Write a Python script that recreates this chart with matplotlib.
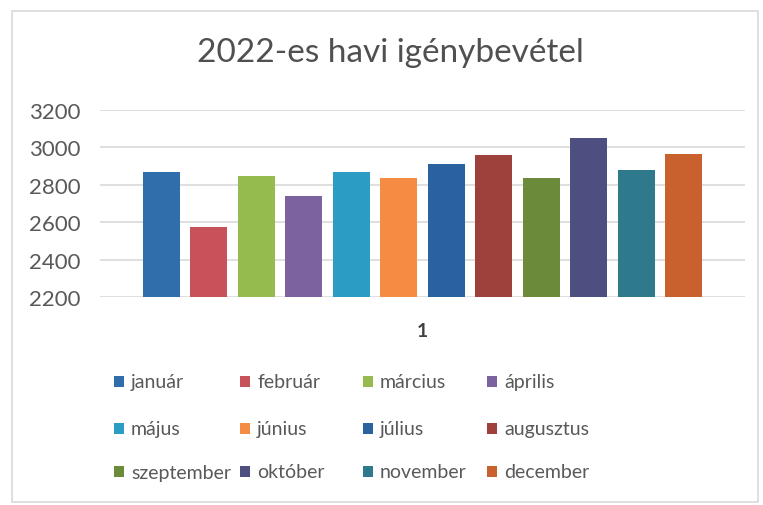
import matplotlib.pyplot as plt
from matplotlib.patches import Rectangle

# havi igénybevétel 2022 (értékek)
months = ['január', 'február', 'március', 'április', 'május', 'június',
          'július', 'augusztus', 'szeptember', 'október', 'november', 'december']
values = [2868, 2575, 2848, 2740, 2868, 2837, 2911, 2959, 2837, 3050, 2879, 2965]
colors = ['#2f6eaa', '#c8525a', '#95bb4f', '#7c63a0', '#2b9cc4', '#f48d43',
          '#2a62a0', '#9e403b', '#6b8b3a', '#4d4f80', '#2e7a8c', '#c9612f']
yticks = [2200, 2400, 2600, 2800, 3000, 3200]
category = '1'

plt.rcParams['font.family'] = ['Lato', 'DejaVu Sans']

W, H = 763, 506
fig = plt.figure(figsize=(W / 100, H / 100), dpi=100)

# keret
fig.add_artist(Rectangle((12 / W, 1 - 503 / H), 746 / W, 491 / H, transform=fig.transFigure,
                         fill=False, edgecolor='#d9d9d9', linewidth=1.2))

ax = fig.add_axes([100 / W, 1 - 298 / H, 645 / W, 187 / H])
x = list(range(len(values)))
ax.bar(x, [v - yticks[0] for v in values], bottom=yticks[0], width=0.78, color=colors, zorder=3)

ax.set_ylim(yticks[0], yticks[-1])
ax.set_xlim(-0.5 - 0.79, 11.5 + 0.79)
ax.set_yticks(yticks)
ax.set_yticklabels([str(t) for t in yticks], fontsize=16, color='#595959')
ax.set_xticks([5.5])
ax.set_xticklabels([category], fontsize=14, color='#404040', fontweight='bold')
ax.tick_params(axis='both', length=0)
ax.tick_params(axis='y', pad=14)
ax.tick_params(axis='x', pad=18)
ax.grid(axis='y', color='#d9d9d9', linewidth=1.2, zorder=0)
for s in ax.spines.values():
    s.set_visible(False)

fig.text(390 / W, 1 - 53 / H, '2022-es havi igénybevétel', ha='center', va='center',
         fontsize=24, color='#505050')

# jelmagyarázat, 3 sor x 4 oszlop
col_x = [114, 240, 363, 487]
row_y = [383, 430, 473]
for i, (m, c) in enumerate(zip(months, colors)):
    cx = col_x[i % 4]
    cy = row_y[i // 4]
    fig.add_artist(Rectangle((cx / W, 1 - (cy + 5) / H), 10 / W, 11 / H,
                             transform=fig.transFigure, facecolor=c, edgecolor='none'))
    fig.text((cx + 17) / W, 1 - cy / H, m, ha='left', va='center', fontsize=14, color='#595959')

fig.savefig('out.png', dpi=100)
